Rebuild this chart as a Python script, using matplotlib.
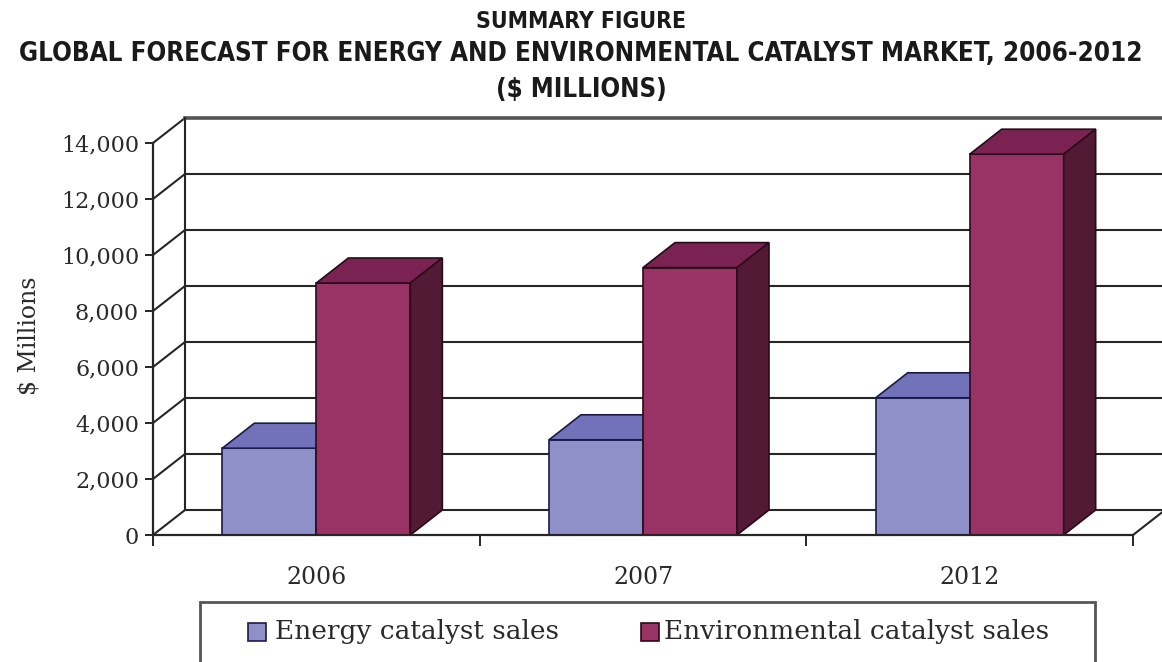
import matplotlib
matplotlib.use("Agg")
import matplotlib.pyplot as plt
from matplotlib.patches import Polygon, Rectangle

# ---------------- data ----------------
categories = ["2006", "2007", "2012"]
energy_sales = [3100, 3400, 4900]
environmental_sales = [9000, 9550, 13600]
series_labels = ["Energy catalyst sales", "Environmental catalyst sales"]
y_ticks = [0, 2000, 4000, 6000, 8000, 10000, 12000, 14000]
y_tick_labels = ["0", "2,000", "4,000", "6,000", "8,000", "10,000", "12,000", "14,000"]
title_lines = ["SUMMARY FIGURE",
               "GLOBAL FORECAST FOR ENERGY AND ENVIRONMENTAL CATALYST MARKET, 2006-2012",
               "($ MILLIONS)"]
y_label = "$ Millions"

# ---------------- style ----------------
W, H = 1162, 662
fig = plt.figure(figsize=(W / 100, H / 100), dpi=100)
fig.patch.set_facecolor("white")

ax_left, ax_right, ax_bottom_px, ax_top_px = 153, 1133, 535, 143
ax = fig.add_axes([ax_left / W, (H - ax_bottom_px) / H,
                   (ax_right - ax_left) / W, (ax_bottom_px - ax_top_px) / H])
ymax = 14000
ncat = len(categories)
ax.set_xlim(0, ncat)
ax.set_ylim(0, ymax)
ax.set_facecolor("none")

px_per_x = (ax_right - ax_left) / ncat
px_per_y = (ax_bottom_px - ax_top_px) / ymax
dx = 32 / px_per_x          # depth offset (data units)
dy = 25 / px_per_y

grid_c = "#262626"
grid_lw = 1.5

# back wall gridlines + left wall diagonals
for t in y_ticks:
    ax.plot([dx, ncat + dx], [t + dy, t + dy], color=grid_c, lw=grid_lw,
            clip_on=False, zorder=1, solid_capstyle="butt")
    ax.plot([0, dx], [t, t + dy], color=grid_c, lw=grid_lw, clip_on=False, zorder=1)
ax.plot([dx, ncat + dx], [ymax + dy, ymax + dy], color="#555555", lw=2.6,
        clip_on=False, zorder=1)
ax.plot([dx, dx], [dy, ymax + dy], color=grid_c, lw=grid_lw, clip_on=False, zorder=1)
ax.plot([ncat, ncat + dx], [0, dy], color=grid_c, lw=grid_lw, clip_on=False, zorder=1)

# ---------------- bars ----------------
bw = 94 / px_per_x
e_front, e_top, e_edge = "#9090C8", "#7272BA", "#1a1a4a"
v_front, v_top, v_side, v_edge = "#993366", "#7A2352", "#521A35", "#2a0a1a"

x_centers = [i + 0.5 for i in range(ncat)]
x_energy = [c - bw / 2 for c in x_centers]
x_env = [c + bw / 2 for c in x_centers]

ax.bar(x_energy, energy_sales, width=bw, color=e_front, edgecolor=e_edge,
       linewidth=1.2, zorder=3, label=series_labels[0])
ax.bar(x_env, environmental_sales, width=bw, color=v_front, edgecolor=v_edge,
       linewidth=1.2, zorder=5, label=series_labels[1])

for xc, val in zip(x_energy, energy_sales):
    x0, x1 = xc - bw / 2, xc + bw / 2
    ax.add_patch(Polygon([(x0, val), (x1, val), (x1 + dx, val + dy), (x0 + dx, val + dy)],
                         closed=True, facecolor=e_top, edgecolor=e_edge, lw=1.2, zorder=3))
    ax.add_patch(Polygon([(x1, 0), (x1 + dx, dy), (x1 + dx, val + dy), (x1, val)],
                         closed=True, facecolor="#4a4a80", edgecolor=e_edge, lw=1.2, zorder=2.9))

for xc, val in zip(x_env, environmental_sales):
    x0, x1 = xc - bw / 2, xc + bw / 2
    ax.add_patch(Polygon([(x0, val), (x1, val), (x1 + dx, val + dy), (x0 + dx, val + dy)],
                         closed=True, facecolor=v_top, edgecolor=v_edge, lw=1.2, zorder=5,
                         clip_on=False))
    ax.add_patch(Polygon([(x1, 0), (x1 + dx, dy), (x1 + dx, val + dy), (x1, val)],
                         closed=True, facecolor=v_side, edgecolor=v_edge, lw=1.2, zorder=5,
                         clip_on=False))

# ---------------- axes ----------------
for s in ["top", "right"]:
    ax.spines[s].set_visible(False)
for s in ["left", "bottom"]:
    ax.spines[s].set_color(grid_c)
    ax.spines[s].set_linewidth(1.6)
    ax.spines[s].set_zorder(6)

serif = ["DejaVu Serif"]
txt_c = "#2a2a2a"
ax.set_yticks(y_ticks)
ax.set_yticklabels(y_tick_labels, family=serif, fontsize=16, color=txt_c)
ax.tick_params(axis="y", direction="out", length=6, width=1.4, color=grid_c, pad=4)

ax.set_xticks(x_centers)
ax.set_xticklabels(categories, family=serif, fontsize=17, color=txt_c)
ax.tick_params(axis="x", which="major", length=0, pad=22)
ax.set_xticks(list(range(ncat + 1)), minor=True)
ax.tick_params(axis="x", which="minor", direction="out", length=8, width=1.4, color=grid_c)

fig.text(29 / W, 1 - 336 / H, y_label, rotation=90, ha="center", va="center",
         family=serif, fontsize=17, color=txt_c)

# ---------------- title ----------------
tfam = ["Liberation Sans Narrow", "DejaVu Sans"]
title_y = [21, 54, 90]
title_fs = [16.5, 18.6, 18.5]
for txt, yy, fs in zip(title_lines, title_y, title_fs):
    fig.text(0.5, 1 - yy / H, txt, ha="center", va="center", family=tfam,
             fontweight="bold", fontsize=fs, color="#1a1a1a", stretch="condensed")

# ---------------- legend (drawn) ----------------
fig.add_artist(Rectangle((200 / W, -5 / H), (1095 - 200) / W, (H - 602 + 5) / H,
                         transform=fig.transFigure, facecolor="white",
                         edgecolor="#555555", lw=2.0))
leg_y = 632
for mx, tx, fc, ec, lab in [(248, 275, e_front, e_edge, series_labels[0]),
                            (641, 664, v_front, v_edge, series_labels[1])]:
    fig.add_artist(Rectangle((mx / W, 1 - (leg_y + 9) / H), 18 / W, 18 / H,
                             transform=fig.transFigure, facecolor=fc,
                             edgecolor=ec, lw=1.2))
    fig.text(tx / W, 1 - leg_y / H, lab, ha="left", va="center", family=serif,
             fontsize=19, color=txt_c)

fig.savefig("out.png", dpi=100)
